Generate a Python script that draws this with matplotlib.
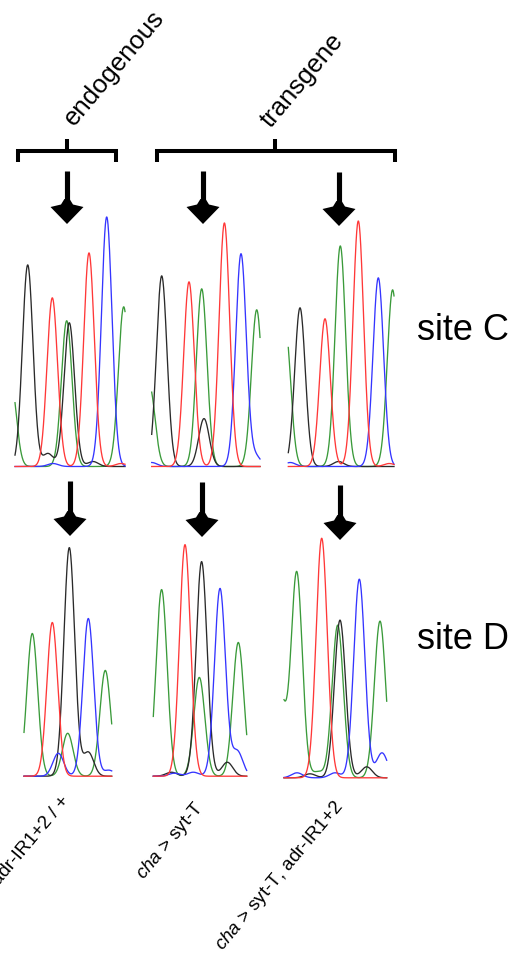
import numpy as np
import matplotlib.pyplot as plt
from matplotlib.patches import Polygon

plt.rcParams['font.family'] = ['Liberation Sans', 'DejaVu Sans']
plt.rcParams['mathtext.fontset'] = 'custom'
plt.rcParams['mathtext.rm'] = 'Liberation Sans'
plt.rcParams['mathtext.it'] = 'Liberation Sans:italic'

W, H = 520, 954

# peak tables, (position, height) along each trace
# site C
c_endo_green = [(-4, 85), (51.7, 146), (108.7, 160)]
c_endo_black = [(12.7, 202), (33, 13), (54.3, 144), (78, 5)]
c_endo_blue = [(91.7, 250), (38, 3)]
c_endo_red = [(37.3, 169), (74, 214), (106, 3)]

c_syt_green = [(-2, 80), (50, 178), (105, 157)]
c_syt_black = [(10, 191), (52.3, 48)]
c_syt_blue = [(89.3, 213), (104, 10), (0, 4)]
c_syt_red = [(37.3, 185), (72.7, 244)]

c_both_green = [(-3, 140), (52, 221), (104.3, 177)]
c_both_black = [(11.7, 159), (50.3, 5)]
c_both_blue = [(90, 189), (2, 4)]
c_both_red = [(36.7, 148), (70, 246), (101, 3)]

# site D
d_endo_green = [(8.3, 143), (43.7, 43), (81.3, 106)]
d_endo_black = [(45.3, 229), (64.3, 24)]
d_endo_blue = [(34.3, 23), (64.3, 158), (85, 6)]
d_endo_red = [(28.3, 154)]

d_syt_green = [(8.3, 187), (46, 99), (85, 134)]
d_syt_black = [(48.3, 215), (74, 14), (18, 4)]
d_syt_blue = [(66.7, 188), (84, 25), (40, 4), (21, 3)]
d_syt_red = [(31.7, 232)]

d_both_green = [(-4.3, 84), (12.7, 206), (34, 6), (53.7, 153), (96, 157)]
d_both_black = [(56, 158), (82.7, 11), (26, 4)]
d_both_blue = [(75.3, 199), (98, 25), (13, 5), (51, 5)]
d_both_red = [(37.7, 240)]

groups = ['endogenous', 'transgene']
sites = ['site C', 'site D']
genotypes = ['adr-IR1+2 / +', '$\\mathit{cha}$ > syt-T',
             '$\\mathit{cha}$ > syt-T, adr-IR1+2']

colors = {'green': '#3a9a3a', 'black': '#2a2a2a', 'blue': '#3535ff', 'red': '#ff3838'}

# panel boxes: left, right, baseline (pixels), peak width
panels = [
    ((15, 125, 468), 5.3, dict(green=c_endo_green, black=c_endo_black, blue=c_endo_blue, red=c_endo_red)),
    ((151.7, 260, 468), 5.3, dict(green=c_syt_green, black=c_syt_black, blue=c_syt_blue, red=c_syt_red)),
    ((288.3, 394, 468), 5.3, dict(green=c_both_green, black=c_both_black, blue=c_both_blue, red=c_both_red)),
    ((24, 111.7, 777.7), 5.4, dict(green=d_endo_green, black=d_endo_black, blue=d_endo_blue, red=d_endo_red)),
    ((153.3, 246.7, 777.7), 5.5, dict(green=d_syt_green, black=d_syt_black, blue=d_syt_blue, red=d_syt_red)),
    ((284, 386.7, 779.3), 5.6, dict(green=d_both_green, black=d_both_black, blue=d_both_blue, red=d_both_red)),
]


def peak(x, pos, h, s):
    return h * np.exp(-0.5 * ((x - pos) / s) ** 2)


fig = plt.figure(figsize=(W / 100, H / 100), dpi=100)
fig.patch.set_facecolor('white')

TOP = 262
for (left, right, base), s, traces in panels:
    width = right - left
    ax = fig.add_axes([left / W, (H - base) / H, width / W, TOP / H])
    ax.set_xlim(0, width)
    ax.set_ylim(-0.5, TOP)
    ax.axis('off')
    x = np.linspace(0, width, 500)
    for name in ['green', 'black', 'blue', 'red']:
        y = np.zeros_like(x)
        for pos, h in traces[name]:
            y += peak(x, pos, h, s)
        ax.plot(x, y, color=colors[name], lw=0.95, clip_on=False)

# overlay for brackets, arrows and labels, in pixel coordinates
ov = fig.add_axes([0, 0, 1, 1], zorder=5)
ov.set_xlim(0, W)
ov.set_ylim(H, 0)
ov.axis('off')
ov.patch.set_alpha(0)

lw_br = 2.9
ov.plot([18, 18, 116, 116], [163, 151.5, 151.5, 163], color='k', lw=lw_br,
        solid_joinstyle='miter', solid_capstyle='butt')
ov.plot([67, 67], [140, 151.5], color='k', lw=lw_br, solid_capstyle='butt')
ov.plot([157, 157, 395, 395], [163, 151.5, 151.5, 163], color='k', lw=lw_br,
        solid_joinstyle='miter', solid_capstyle='butt')
ov.plot([275, 275], [140, 151.5], color='k', lw=lw_br, solid_capstyle='butt')


def arrow(x, y0, tip):
    ov.plot([x, x], [y0, tip - 20], color='k', lw=3.7, solid_capstyle='butt')
    head = [(x, tip), (x + 16.5, tip - 17), (x + 6, tip - 19.5), (x + 2.6, tip - 25),
            (x - 2.6, tip - 25), (x - 6, tip - 19.5), (x - 16.5, tip - 17)]
    ov.add_patch(Polygon(head, closed=True, color='k', lw=0))


for x, y0, tip in [(67, 172, 225), (203, 172, 225), (339, 173, 227)]:
    arrow(x, y0, tip)
for x, y0, tip in [(70, 482, 537), (202, 483, 538), (340, 486, 541)]:
    arrow(x, y0, tip)

ov.text(114.5, 68, groups[0], rotation=50, fontsize=18.5, ha='center', va='center')
ov.text(302.5, 80, groups[1], rotation=50, fontsize=18.5, ha='center', va='center')

ov.text(417, 340, sites[0], fontsize=26, ha='left', va='baseline')
ov.text(417, 649, sites[1], fontsize=26, ha='left', va='baseline')

for (x, y), lab in zip([(73, 793), (209, 798), (348, 797)], genotypes):
    ov.text(x, y, lab, rotation=50, fontsize=13.5, ha='right', va='top')

fig.savefig('out.png', dpi=100, facecolor='white')
